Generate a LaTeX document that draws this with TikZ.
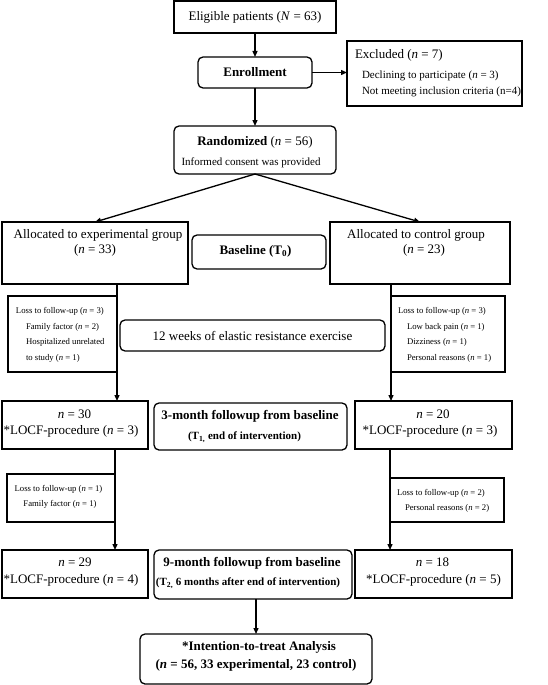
\documentclass[tikz,border=0pt]{standalone}
\usepackage{fontspec}
\setmainfont{Liberation Serif}
\usetikzlibrary{arrows.meta}
\newcommand{\fA}{\fontsize{13}{16}\selectfont}
\newcommand{\fB}{\fontsize{11}{14}\selectfont}
\newcommand{\fC}{\fontsize{8.7}{11}\selectfont}
\newcommand{\nn}{\textit{n}}
\begin{document}
\begin{tikzpicture}[x=1pt,y=-1pt,
  bx/.style={draw, line width=1.3pt, inner sep=0pt, outer sep=0pt},
  rbx/.style={bx, rounded corners=5pt},
  txt/.style={inner sep=0pt, outer sep=0pt, text height=0.72em, text depth=0.22em},
  arr/.style={line width=1.3pt, -{Triangle[length=6pt,width=5pt]}}]
\useasboundingbox (0,0) rectangle (547,685);
% boxes
\node[bx, minimum width=162, minimum height=32, font=\fA] (elig) at (255,17) {Eligible patients (\textit{N} = 63)};
\node[rbx, minimum width=114, minimum height=31, font=\fA\bfseries] (enrol) at (255,72.5) {Enrollment};
\node[bx, minimum width=175, minimum height=65] (excl) at (434.5,73.5) {};
\node[rbx, minimum width=162, minimum height=48] (rand) at (255,150) {};
\node[bx, minimum width=186, minimum height=62] (allocE) at (95,253) {};
\node[rbx, minimum width=134, minimum height=34] (base) at (259,252) {};
\node[bx, minimum width=180, minimum height=62] (allocC) at (420,253) {};
\node[bx, minimum width=109, minimum height=76] (lossE1) at (62.5,334) {};
\node[rbx, minimum width=265, minimum height=31, font=\fA] (week) at (252.5,335.5) {12 weeks of elastic resistance exercise};
\node[bx, minimum width=114, minimum height=76] (lossC1) at (448,334) {};
\node[bx, minimum width=146, minimum height=48] (n30) at (75,425) {};
\node[rbx, minimum width=193, minimum height=47] (m3) at (250.5,426.5) {};
\node[bx, minimum width=157, minimum height=48] (n20) at (433.5,425) {};
\node[bx, minimum width=108, minimum height=48] (lossE2) at (61,498) {};
\node[bx, minimum width=114, minimum height=44] (lossC2) at (447,500) {};
\node[bx, minimum width=146, minimum height=48] (n29) at (75,574) {};
\node[rbx, minimum width=198, minimum height=49] (m9) at (253,574.5) {};
\node[bx, minimum width=157, minimum height=48] (n18) at (433.5,574) {};
\node[rbx, minimum width=232, minimum height=50] (itt) at (256,659) {};
% texts
\node[txt, anchor=west, font=\fA] (ex1) at (355,56) {Excluded (\nn{} = 7)};
\node[txt, anchor=west, font=\fB] (ex2) at (362,76) {Declining to participate (\nn{} = 3)};
\node[txt, anchor=west, font=\fB] (ex3) at (362,92) {Not meeting inclusion criteria (n=4)};
\node[txt, font=\fA] (ra1) at (255,143) {\textbf{Randomized} (\nn{} = 56)};
\node[txt, font=\fB] (ra2) at (251,163) {Informed consent was provided};
\node[txt, font=\fA] (ae1) at (98,236) {Allocated to experimental group};
\node[txt, font=\fA] (ae2) at (95,251) {(\nn{} = 33)};
\node[txt, font=\fA\bfseries] (bt) at (255.5,252) {Baseline (T\textsubscript{0})};
\node[txt, font=\fA] (ac1) at (416,236) {Allocated to control group};
\node[txt, font=\fA] (ac2) at (424,251) {(\nn{} = 23)};
\node[txt, anchor=west, font=\fC] (le1) at (16,311) {Loss to follow-up (\nn{} = 3)};
\node[txt, anchor=west, font=\fC] (le2) at (26,327) {Family factor (\nn{} = 2)};
\node[txt, anchor=west, font=\fC] (le3) at (26,342) {Hospitalized unrelated};
\node[txt, anchor=west, font=\fC] (le4) at (26,358) {to study (\nn{} = 1)};
\node[txt, anchor=west, font=\fC] (lc1) at (398,311) {Loss to follow-up (\nn{} = 3)};
\node[txt, anchor=west, font=\fC] (lc2) at (407,327) {Low back pain (\nn{} = 1)};
\node[txt, anchor=west, font=\fC] (lc3) at (407,342) {Dizziness (\nn{} = 1)};
\node[txt, anchor=west, font=\fC] (lc4) at (407,358) {Personal reasons (\nn{} = 1)};
\node[txt, font=\fA] (a1) at (74.5,416) {\nn{} = 30};
\node[txt, font=\fA] (a2) at (71,432) {*LOCF-procedure (\nn{} = 3)};
\node[txt, font=\fA\bfseries] (b1) at (250,417) {3-month followup from baseline};
\node[txt, font=\fB\bfseries] (b2) at (244.5,437) {(T\textsubscript{1,} end of intervention)};
\node[txt, font=\fA] (c1) at (433,416) {\nn{} = 20};
\node[txt, font=\fA] (c2) at (430,432) {*LOCF-procedure (\nn{} = 3)};
\node[txt, font=\fC] (d1) at (58.5,489) {Loss to follow-up (\nn{} = 1)};
\node[txt, font=\fC] (d2) at (60,504) {Family factor (\nn{} = 1)};
\node[txt, anchor=west, font=\fC] (e1) at (397,493) {Loss to follow-up (\nn{} = 2)};
\node[txt, anchor=west, font=\fC] (e2) at (405,508) {Personal reasons (\nn{} = 2)};
\node[txt, font=\fA] (f1) at (75,564) {\nn{} = 29};
\node[txt, font=\fA] (f2) at (71,581) {*LOCF-procedure (\nn{} = 4)};
\node[txt, font=\fA\bfseries] (g1) at (252,564) {9-month followup from baseline};
\node[txt, font=\fB\bfseries] (g2) at (248,583) {(T\textsubscript{2,} 6 months after end of intervention)};
\node[txt, font=\fA] (h1) at (432.5,564) {\nn{} = 18};
\node[txt, font=\fA] (h2) at (433.5,581) {*LOCF-procedure (\nn{} = 5)};
\node[txt, font=\fA\bfseries] (i1) at (259,648) {*Intention-to-treat Analysis};
\node[txt, font=\fA\bfseries] (i2) at (256,666) {(\textit{n} = 56, 33 experimental, 23 control)};
% connectors
\draw[arr] (elig.south) -- (enrol.north);
\draw[arr] (enrol.east) -- (enrol.east -| excl.west);
\draw[arr] (enrol.south) -- (rand.north);
\draw[arr] (rand.south) -- (allocE.north);
\draw[arr] (rand.south) -- (allocC.north);
\draw[arr] (allocE.south -| lossE1.east) -- (n30.north -| lossE1.east);
\draw[arr] (allocC.south -| lossC1.west) -- (n20.north -| lossC1.west);
\draw[arr] (n30.south -| lossE2.east) -- (n29.north -| lossE2.east);
\draw[arr] (n20.south -| lossC2.west) -- (n18.north -| lossC2.west);
\draw[arr] (itt.north |- m9.south) -- (itt.north);
\end{tikzpicture}
\end{document}
